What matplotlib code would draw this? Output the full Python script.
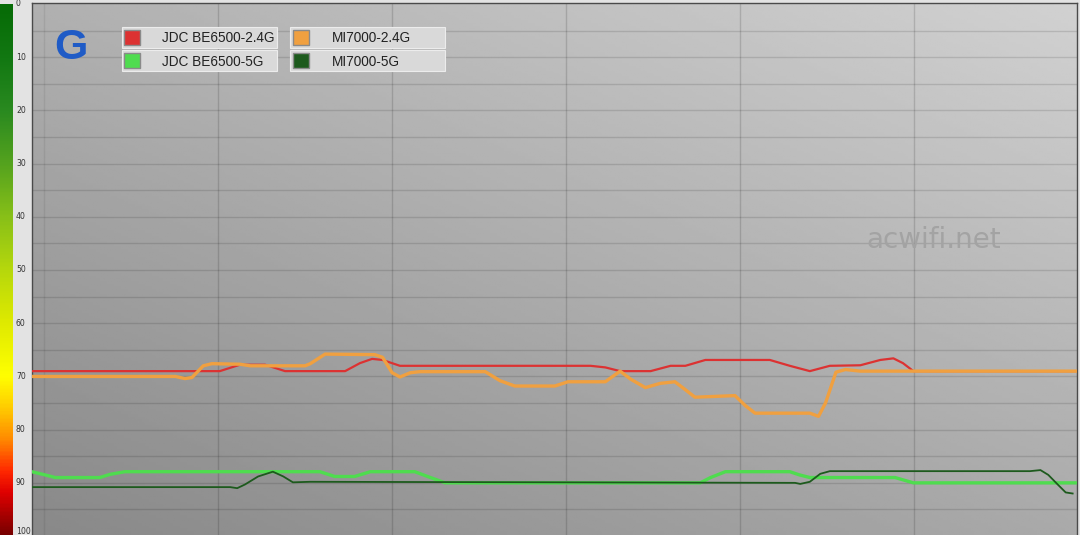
import numpy as np
import matplotlib
matplotlib.use("Agg")
import matplotlib.pyplot as plt
from matplotlib.colors import LinearSegmentedColormap
from matplotlib.patches import Rectangle

# ---------------- data ----------------
series_names = ["JDC BE6500-2.4G", "MI7000-2.4G", "JDC BE6500-5G", "MI7000-5G"]
series_colors = ["#dc3232", "#f0a040", "#4fdc4f", "#1d5a1d"]

red_t = [-1.4, 20.2, 22.5, 25.4, 27.7, 34.6, 36.3, 37.7, 38.9, 40.9, 62.8, 64.5, 66.2, 69.7,
         72.0, 73.7, 76.0, 83.4, 85.7, 88.0, 90.3, 93.8, 96.1, 97.6, 98.7, 99.9, 118.5]
red_v = [69, 69, 67.8, 67.8, 69, 69, 67.5, 66.7, 66.9, 68, 68, 68.3, 69, 69,
         68, 68, 66.9, 66.9, 68, 69, 68, 67.9, 66.9, 66.6, 67.5, 69, 69]

orange_t = [-1.4, 15.1, 16.2, 17.0, 18.3, 19.3, 22.5, 23.7, 30.0, 30.6, 32.3, 38.0, 38.9, 40.0,
            40.9, 42.1, 43.2, 50.7, 52.4, 54.1, 58.7, 60.2, 64.5, 66.2, 67.4, 69.1, 70.8, 72.5,
            73.7, 74.8, 79.4, 80.6, 81.7, 88.0, 89.0, 89.8, 91.0, 92.1, 93.8, 118.5]
orange_v = [70, 70, 70.4, 70.2, 68, 67.6, 67.7, 68, 68, 67.6, 65.8, 65.9, 66.4, 69.3,
            70.1, 69.3, 69.1, 69.1, 70.8, 71.8, 71.8, 71, 71, 69, 70.5, 72.1, 71.3, 71,
            72.5, 73.9, 73.6, 75.5, 76.9, 76.9, 77.5, 75, 69.2, 68.7, 69, 69]

lgreen_t = [-1.4, 0.1, 1.3, 6.4, 7.6, 9.3, 31.7, 33.4, 35.7, 37.5, 42.6, 44.4, 46.1, 75.4,
            76.6, 78.3, 85.7, 86.8, 88.0, 97.8, 99.9, 118.5]
lgreen_v = [87.9, 88.5, 89, 89, 88.4, 87.9, 87.9, 88.8, 88.8, 87.9, 87.9, 89, 90, 90,
            89, 87.9, 87.9, 88.5, 89, 89, 90, 90]

dgreen_t = [-1.4, 21.4, 22.2, 23.1, 24.6, 26.3, 27.5, 28.6, 30.6, 86.3, 86.9, 88.0, 89.2,
            90.3, 113.3, 114.5, 115.4, 116.6, 117.4, 118.2]
dgreen_v = [90.8, 90.8, 91, 90.3, 88.8, 87.9, 88.8, 89.9, 89.8, 90, 90.2, 89.8, 88.3,
            87.8, 87.8, 87.6, 88.5, 90.5, 91.8, 92]

y_ticks = [0, 10, 20, 30, 40, 50, 60, 70, 80, 90, 100]
x_grid = [0, 20, 40, 60, 80, 100]
badge = "G"
watermark = "acwifi.net"

# ---------------- figure ----------------
W, H = 1080, 535
fig = plt.figure(figsize=(W / 100, H / 100), dpi=100, facecolor="#e3e3e3")

def fbox(x0, y0, x1, y1):
    return [x0 / W, 1 - y1 / H, (x1 - x0) / W, (y1 - y0) / H]

YLIM = (99.8, -0.19)
XLIM = (-1.38, 118.7)

# colour bar at the far left
cax = fig.add_axes(fbox(0, 3, 12.5, 535))
cmap = LinearSegmentedColormap.from_list("sig", [
    (0.00, "#066b06"), (0.10, "#127812"), (0.20, "#2a8a20"), (0.30, "#55a31e"),
    (0.40, "#88c018"), (0.50, "#b6d80c"), (0.60, "#dfea00"), (0.70, "#ffff00"),
    (0.76, "#ffcc00"), (0.82, "#ff8a00"), (0.88, "#ff2800"), (0.92, "#e00000"),
    (1.00, "#780000")])
grad = np.linspace(0, 1, 400).reshape(-1, 1)
cax.imshow(grad, aspect="auto", cmap=cmap, extent=[0, 1, 100, 0])
cax.set_ylim(YLIM)
cax.set_xlim(0, 1)
cax.axis("off")

# tick labels in the light strip
for v in y_ticks:
    yp = min(4 + 5.32 * v, 531)
    fig.text(16 / W, 1 - yp / H, str(v), fontsize=5.6, color="#333333",
             ha="left", va="center", family="DejaVu Sans")

# main axes
ax = fig.add_axes(fbox(32, 3, 1077, 535))
ax.set_xlim(XLIM)
ax.set_ylim(YLIM)

# diagonal gradient background
xx, yy = np.meshgrid(np.linspace(0, 1, 300), np.linspace(0, 1, 200))
bg = 0.69 + 0.13 * xx - 0.155 * yy
ax.imshow(bg, cmap="gray", vmin=0, vmax=1, aspect="auto",
          extent=[XLIM[0], XLIM[1], YLIM[0], YLIM[1]], origin="upper", zorder=0)

for v in np.arange(5, 100, 5):
    ax.axhline(v, color="black", alpha=0.12, lw=1.0, zorder=1)
for t in x_grid:
    ax.axvline(t, color="black", alpha=0.14 if t else 0.07, lw=1.0, zorder=1)

ax.set_xticks([])
ax.set_yticks([])
for s in ["top", "right", "left"]:
    ax.spines[s].set_color("#4a4a4a")
    ax.spines[s].set_linewidth(1.0)
ax.spines["bottom"].set_visible(False)

# series
ax.plot(red_t, red_v, color=series_colors[0], lw=1.6, zorder=3, solid_joinstyle="round")
ax.plot(orange_t, orange_v, color=series_colors[1], lw=2.4, zorder=4, solid_joinstyle="round")
ax.plot(lgreen_t, lgreen_v, color=series_colors[2], lw=2.4, zorder=3, solid_joinstyle="round")
ax.plot(dgreen_t, dgreen_v, color=series_colors[3], lw=1.3, zorder=4, solid_joinstyle="round")

# watermark
ax.text((866 - 44) / 8.7, (240 - 4) / 5.32, watermark, fontsize=20, color="#a3a3a3",
        ha="left", va="center", family="DejaVu Sans", zorder=2)

# badge letter
fig.text(71 / W, 1 - 48 / H, badge, fontsize=31, color="#1f5bc6", fontweight="bold",
         family="Liberation Sans", ha="center", va="center")

# legend, drawn as boxes
cols = [(122, 277, 124, 162), (290, 445, 293, 332)]
rows = [(27, 48), (50, 71)]
order = [(0, 0), (0, 1), (1, 0), (1, 1)]  # (row, col) for each series
for i, (r, c) in enumerate(order):
    x0, x1, sx, tx = cols[c]
    y0, y1 = rows[r]
    fig.patches.append(Rectangle((x0 / W, 1 - y1 / H), (x1 - x0) / W, (y1 - y0) / H,
                                 transform=fig.transFigure, facecolor="#d9d9d9",
                                 edgecolor="#ececec", lw=0.8, zorder=5))
    cy = (y0 + y1) / 2
    fig.patches.append(Rectangle((sx / W, 1 - (cy + 7.5) / H), 15.5 / W, 15 / H,
                                 transform=fig.transFigure, facecolor=series_colors[i],
                                 edgecolor="#8a8a8a", lw=1.0, zorder=6))
    fig.text(tx / W, 1 - (cy + 1) / H, series_names[i], fontsize=9.8, color="#222222",
             family="Liberation Sans", ha="left", va="center", zorder=7)

fig.savefig("out.png", dpi=100, facecolor=fig.get_facecolor())
